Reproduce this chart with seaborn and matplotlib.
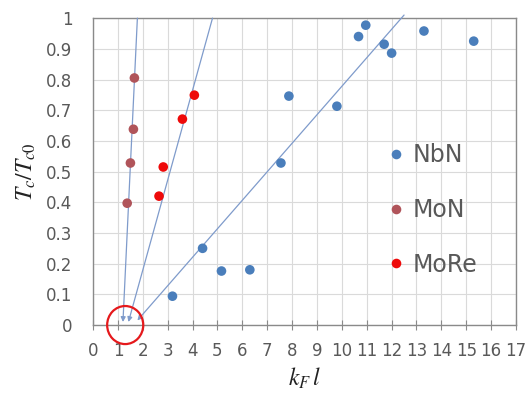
import numpy as np
import pandas as pd
import seaborn as sns
import matplotlib.pyplot as plt
from matplotlib.patches import Ellipse

# data
nbn_kfl = [3.19, 4.4, 5.16, 6.3, 7.55, 7.87, 9.8, 10.67, 10.96, 11.7, 12.0, 13.3, 15.3]
nbn_tc = [0.094, 0.25, 0.176, 0.18, 0.528, 0.746, 0.713, 0.94, 0.977, 0.915, 0.886, 0.958, 0.925]
mon_kfl = [1.37, 1.5, 1.62, 1.66]
mon_tc = [0.397, 0.528, 0.638, 0.805]
more_kfl = [2.65, 2.82, 3.59, 4.07]
more_tc = [0.42, 0.515, 0.671, 0.749]

# guide lines (start at bottom, end at top)
line_start_x = [1.2, 1.42, 1.78]
line_start_y = [0.01, 0.01, 0.015]
line_end_x = [1.78, 4.8, 12.5]
line_end_y = [1.0, 1.0, 1.01]

series = ['NbN', 'MoN', 'MoRe']
colors = {'NbN': '#4A7EBB', 'MoN': '#B0545A', 'MoRe': '#EE0A0A'}

xticks = list(range(0, 18))
yticks = [0, 0.1, 0.2, 0.3, 0.4, 0.5, 0.6, 0.7, 0.8, 0.9, 1]
yticklabels = ['0', '0.1', '0.2', '0.3', '0.4', '0.5', '0.6', '0.7', '0.8', '0.9', '1']

df = pd.DataFrame({
    'kfl': nbn_kfl + mon_kfl + more_kfl,
    'tc': nbn_tc + mon_tc + more_tc,
    'mat': ['NbN'] * len(nbn_kfl) + ['MoN'] * len(mon_kfl) + ['MoRe'] * len(more_kfl),
})

sns.set_style('white')
plt.rcParams['font.family'] = ['DejaVu Sans']
plt.rcParams['mathtext.fontset'] = 'stix'

fig = plt.figure(figsize=(5.26, 3.94), dpi=100)
ax = fig.add_axes([0.177, 0.175, 0.804, 0.779])

ax.set_xticks(xticks, minor=False)
ax.set_yticks(yticks)
ax.grid(True, color='#DADADA', linewidth=0.8)
ax.set_axisbelow(True)

for i in range(len(line_start_x)):
    ax.annotate('', xy=(line_start_x[i], line_start_y[i]), xytext=(line_end_x[i], line_end_y[i]),
                arrowprops=dict(arrowstyle='-|>', color='#7F9BCB', lw=0.9,
                                mutation_scale=7, shrinkA=0, shrinkB=0),
                annotation_clip=False)

sns.scatterplot(data=df, x='kfl', y='tc', hue='mat', hue_order=series, palette=colors,
                s=48, edgecolor='none', ax=ax, zorder=3, clip_on=False)

ax.add_patch(Ellipse((1.29, 0.0), 1.45, 0.124, fill=False, edgecolor='#E5191C', lw=1.6,
                     clip_on=False, zorder=4))

ax.set_xlim(0, 17)
ax.set_ylim(0, 1)
ax.set_yticklabels(yticklabels)
ax.tick_params(axis='x', labelsize=12, colors='#8A8A8A', labelcolor='#595959',
               direction='inout', length=7, width=0.8, bottom=True, pad=9)
ax.tick_params(axis='y', labelsize=12, labelcolor='#595959', length=0, pad=15)
for sp in ax.spines.values():
    sp.set_color('#8A8A8A')
    sp.set_linewidth(1.0)

ax.set_xlabel('$k_F\\,l$', fontsize=17, color='#222222', labelpad=4)
ax.set_ylabel('$T_c/T_{c0}$', fontsize=17, color='#222222', labelpad=6)

leg = ax.legend(loc='upper left', bbox_to_anchor=(0.632, 0.662), frameon=False,
                fontsize=17, labelspacing=1.3, handlelength=1.2, handletextpad=0.1,
                markerscale=1.0)
for t in leg.get_texts():
    t.set_color('#595959')

fig.savefig('out.png', dpi=100)
